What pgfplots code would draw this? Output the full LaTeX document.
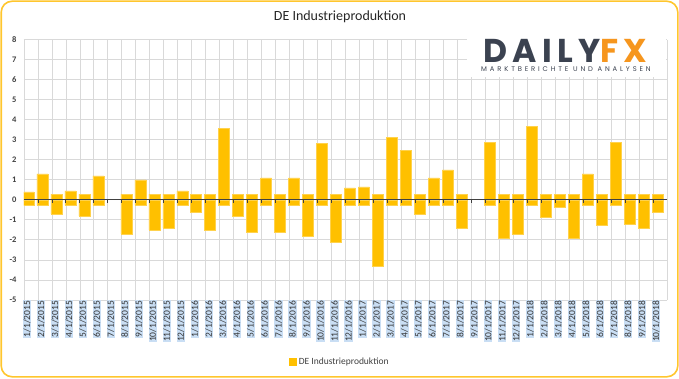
\documentclass[border=0pt]{standalone}
\usepackage{pgfplots}
\pgfplotsset{compat=1.18}
\usepackage{fontspec}
\setmainfont{Carlito}
\newfontfamily\logofont{Poppins}
\definecolor{baryel}{HTML}{FFC000}
\definecolor{baredge}{HTML}{FFD24D}
\definecolor{gridc}{HTML}{D9D9D9}
\definecolor{frame}{HTML}{FFC62E}
\definecolor{txt}{HTML}{404040}
\definecolor{logogray}{HTML}{3B4250}
\definecolor{logoorange}{HTML}{F6961E}
\definecolor{selblue}{HTML}{C9DEF4}

\pgfplotstableread{
x y
0 0.4
1 1.3
2 -0.7
3 0.45
4 -0.8
5 1.2
7 -1.7
8 1.0
9 -1.5
10 -1.4
11 0.45
12 -0.6
13 -1.5
14 3.55
15 -0.8
16 -1.6
17 1.1
18 -1.6
19 1.1
20 -1.8
21 2.8
22 -2.1
23 0.6
24 0.65
25 -3.3
26 3.1
27 2.45
28 -0.7
29 1.1
30 1.5
31 -1.4
33 2.85
34 -1.9
35 -1.7
36 3.65
37 -0.85
38 -0.35
39 -1.9
40 1.3
41 -1.25
42 2.85
43 -1.2
44 -1.4
45 -0.6
}\datatable

\pgfplotstableread{
x y
0 -0.28
1 -0.28
2 0.28
3 -0.28
4 0.28
5 -0.28
7 0.28
8 -0.28
9 0.28
10 0.28
11 -0.28
12 0.28
13 0.28
14 -0.28
15 0.28
16 0.28
17 -0.28
18 0.28
19 -0.28
20 0.28
21 -0.28
22 0.28
23 -0.28
24 -0.28
25 0.28
26 -0.28
27 -0.28
28 0.28
29 -0.28
30 -0.28
31 0.28
33 -0.28
34 0.28
35 0.28
36 -0.28
37 0.28
38 0.28
39 0.28
40 -0.28
41 0.28
42 -0.28
43 0.28
44 0.28
45 0.28
}\offsettable

\begin{document}
\begin{tikzpicture}[x=1pt,y=1pt]
\useasboundingbox (0,0) rectangle (679,378);
\begin{axis}[
  at={(24pt,78pt)}, anchor=south west,
  scale only axis, width=643pt, height=260.5pt,
  xmin=-0.5, xmax=45.5, ymin=-5, ymax=8,
  ytick={-5,...,8},
  xtick={0,...,45},
  xticklabels={1/1/2015,2/1/2015,3/1/2015,4/1/2015,5/1/2015,6/1/2015,7/1/2015,8/1/2015,9/1/2015,10/1/2015,11/1/2015,12/1/2015,1/1/2016,2/1/2016,3/1/2016,4/1/2016,5/1/2016,6/1/2016,7/1/2016,8/1/2016,9/1/2016,10/1/2016,11/1/2016,12/1/2016,1/1/2017,2/1/2017,3/1/2017,4/1/2017,5/1/2017,6/1/2017,7/1/2017,8/1/2017,9/1/2017,10/1/2017,11/1/2017,12/1/2017,1/1/2018,2/1/2018,3/1/2018,4/1/2018,5/1/2018,6/1/2018,7/1/2018,8/1/2018,9/1/2018,10/1/2018},
  minor xtick={-0.5,0.5,...,45.5},
  xminorgrids, ymajorgrids,
  grid style={gridc, line width=0.8pt},
  minor grid style={gridc, line width=0.8pt},
  major tick length=0pt, minor tick length=0pt,
  axis line style={draw=none},
  /pgf/number format/assume math mode=true,
  yticklabel style={font=\fontsize{8.5}{10}\selectfont\bfseries, text=txt, xshift=-4pt},
  xticklabel style={font=\fontsize{9.5}{10}\selectfont, text=black!80, fill=selblue, inner sep=0.6pt, xshift=-5pt, rotate=90, anchor=east, yshift=-1pt},
  ybar, bar width=11pt,
  legend style={at={(0.491,-0.238)}, anchor=center, draw=none, fill=none, font=\fontsize{9.5}{10}\selectfont, text=txt, inner sep=0pt},
  legend image code/.code={\fill[baryel] (0pt,-3.6pt) rectangle (7.5pt,3.6pt);},
  legend cell align=left,
]
\addplot[fill=baryel, draw=baredge, line width=0.5pt, bar shift=-2.5pt] table[x=x,y=y] {\datatable};
\addlegendentry{DE Industrieproduktion}
\addplot[fill=baryel, draw=baredge, line width=0.5pt, bar shift=-2.5pt, forget plot] table[x=x,y=y] {\offsettable};
\end{axis}
\begin{axis}[
  at={(24pt,78pt)}, anchor=south west,
  scale only axis, width=643pt, height=260.5pt,
  xmin=-0.5, xmax=45.5, ymin=-5, ymax=8,
  axis x line*=middle, axis y line=none,
  xtick={0.5,1.5,...,44.5}, xticklabels={},
  xtick align=outside, major tick length=3pt,
  x axis line style={draw=black!75, line width=0.9pt},
  every tick/.style={draw=black!75, line width=0.9pt},
]
\end{axis}
% logo area
\fill[white] (467,301) rectangle (666,342.5);
\node[text=logogray, anchor=base, inner sep=0pt] at (565.5,315.5) {\logofont\addfontfeatures{LetterSpace=16}\bfseries\fontsize{33}{33}\selectfont DAILY\textcolor{logoorange}{FX}};
\node[text=logogray, anchor=base, inner sep=0pt] at (566,306) {\logofont\addfontfeatures{LetterSpace=42}\fontsize{6.8}{7}\selectfont MARKTBERICHTE UND ANALYSEN};
% title
\node[text=black!85] at (340,361) {\fontsize{14}{16}\selectfont DE Industrieproduktion};
% frame
\draw[frame, line width=1.6pt, rounded corners=11pt] (1.2,1.2) rectangle (677.8,376.8);
\end{tikzpicture}
\end{document}
